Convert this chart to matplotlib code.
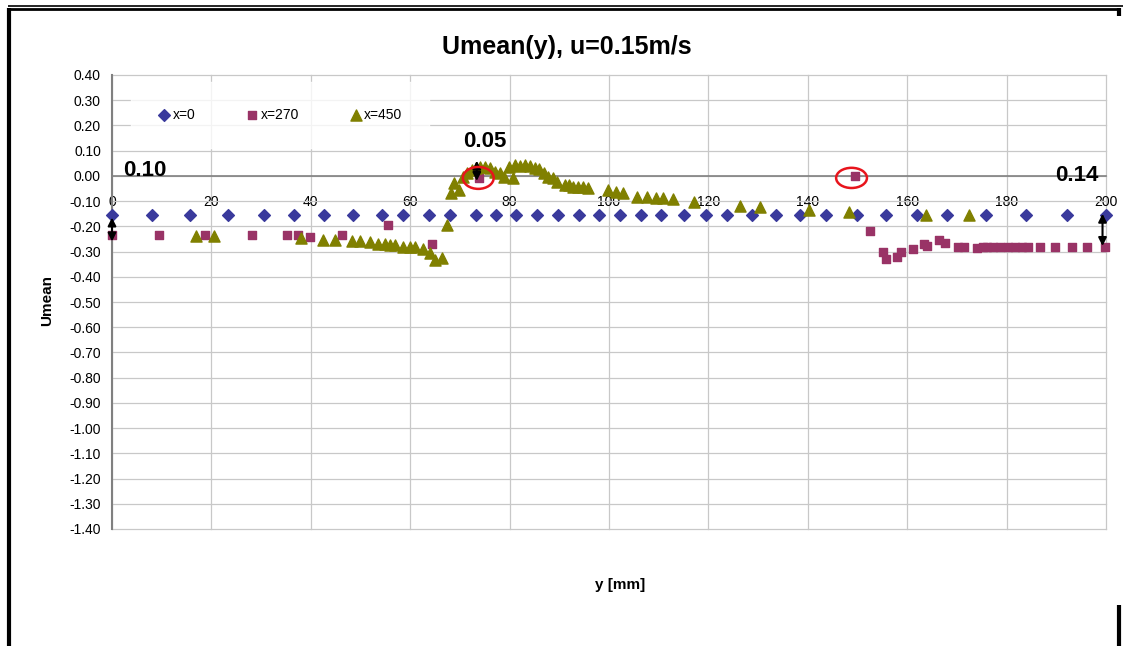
import numpy as np
import matplotlib
matplotlib.use('Agg')
import matplotlib.pyplot as plt
from matplotlib.patches import Ellipse
from matplotlib.lines import Line2D

# profile x=0
y_x0 = [0, 8, 15.7, 23.3, 30.6, 36.6, 42.7, 48.5, 54.3, 58.6, 63.8, 68.0, 73.2, 77.3,
        81.3, 85.5, 89.7, 94.0, 98.0, 102.2, 106.4, 110.5, 115.1, 119.5, 123.7, 128.8,
        133.6, 138.4, 143.7, 149.9, 155.7, 162.0, 168.0, 175.9, 183.9, 192.2, 200]
u_x0 = [-0.155] * len(y_x0)

# profile x=270
y_x270 = [0, 9.5, 18.7, 28.2, 35.2, 37.4, 39.8, 46.3, 55.5, 64.4, 73.8, 149.5, 152.5,
          155.1, 155.7, 157.9, 158.8, 161.2, 163.4, 164.0, 166.4, 167.6, 170.2, 171.4,
          174.0, 175.3, 176.1, 177.3, 178.7, 180.3, 181.7, 183.1, 184.3, 186.7, 189.7,
          193.2, 196.2, 199.8]
u_x270 = [-0.234, -0.234, -0.234, -0.234, -0.234, -0.234, -0.242, -0.234, -0.195, -0.27,
          -0.008, 0.0, -0.218, -0.30, -0.33, -0.32, -0.30, -0.29, -0.27, -0.277, -0.254,
          -0.266, -0.281, -0.281, -0.287, -0.281, -0.281, -0.281, -0.281, -0.281, -0.281,
          -0.281, -0.281, -0.281, -0.281, -0.281, -0.281, -0.281]

# profile x=450
y_x450 = [16.9, 20.5, 38.0, 42.5, 44.9, 48.3, 49.9, 51.9, 53.5, 54.9, 55.9, 56.9, 58.5,
          60.0, 61.0, 62.6, 64.0, 65.0, 66.4, 67.4, 68.2, 68.8, 69.8, 70.6, 71.4, 72.4,
          73.2, 74.0, 75.0, 76.0, 77.0, 78.0, 78.9, 79.9, 80.7, 81.1, 82.1, 83.1, 84.1,
          85.1, 85.9, 86.9, 87.7, 88.7, 89.5, 91.1, 92.0, 92.8, 93.8, 94.8, 95.8, 99.8,
          101.4, 102.8, 105.6, 107.6, 109.5, 110.9, 112.9, 117.1, 126.4, 130.4, 140.2,
          148.3, 163.8, 172.4]
u_x450 = [-0.238, -0.238, -0.246, -0.254, -0.254, -0.257, -0.257, -0.262, -0.27, -0.27,
          -0.274, -0.274, -0.28, -0.28, -0.28, -0.29, -0.305, -0.333, -0.325, -0.195,
          -0.068, -0.028, -0.056, -0.004, 0.012, 0.024, 0.03, 0.036, 0.036, 0.032, 0.016,
          0.012, -0.004, 0.036, -0.008, 0.044, 0.04, 0.044, 0.04, 0.032, 0.028, 0.012,
          -0.004, -0.008, -0.024, -0.036, -0.036, -0.044, -0.044, -0.044, -0.048, -0.056,
          -0.063, -0.067, -0.083, -0.083, -0.087, -0.087, -0.091, -0.103, -0.119, -0.123,
          -0.135, -0.145, -0.155, -0.155]

xticks = np.arange(0, 201, 20)
yticks = np.round(np.arange(-1.4, 0.401, 0.1), 2)

plt.rcParams['font.family'] = ['Liberation Sans', 'DejaVu Sans']

fig = plt.figure(figsize=(11.23, 6.46), dpi=100)
ax = fig.add_axes([112/1123, 1-529/646, 994/1123, 454/646])

ax.scatter(y_x0, u_x0, marker='D', s=36, color='#3a3a9c', label='x=0', zorder=3, clip_on=False)
ax.scatter(y_x270, u_x270, marker='s', s=40, color='#993366', label='x=270', zorder=3, clip_on=False)
ax.scatter(y_x450, u_x450, marker='^', s=64, color='#808000', label='x=450', zorder=3, clip_on=False)

ax.set_xlim(0, 200)
ax.set_ylim(-1.4, 0.4)
ax.set_xticks(xticks)
ax.set_yticks(yticks)
ax.set_yticklabels(['%.2f' % v for v in yticks])
ax.grid(True, color='#c8c8c8', linewidth=0.9, clip_on=False)
ax.set_axisbelow(True)

for s in ['top', 'right']:
    ax.spines[s].set_visible(False)
ax.spines['bottom'].set_position(('data', 0))
ax.spines['bottom'].set_color('#808080')
ax.spines['left'].set_color('#808080')
ax.spines['bottom'].set_linewidth(1.2)
ax.spines['left'].set_linewidth(1.5)
ax.tick_params(axis='x', length=0, pad=14, labelsize=10)
ax.tick_params(axis='y', length=0, pad=8, labelsize=10)

leg = ax.legend(loc='center left', bbox_to_anchor=(0.012, 0.912), ncol=3, frameon=True,
                fontsize=10, handletextpad=0.1, columnspacing=3.6, handlelength=1.0,
                borderpad=1.9, fancybox=False)
leg.get_frame().set_facecolor('white')
leg.get_frame().set_edgecolor('white')

# value labels
ax.text(2.2, 0.0, '0.10', fontsize=16, fontweight='bold', va='baseline', ha='left')
ax.text(75.0, 0.115, '0.05', fontsize=16, fontweight='bold', va='baseline', ha='center')
ax.text(198.4, -0.02, '0.14', fontsize=16, fontweight='bold', va='baseline', ha='right')

# double arrows
arr = dict(arrowstyle='<|-|>', color='black', lw=1.5, mutation_scale=12, shrinkA=0, shrinkB=0)
ax.annotate('', xy=(0, -0.165), xytext=(0, -0.26), arrowprops=arr, annotation_clip=False)
ax.annotate('', xy=(73.4, 0.06), xytext=(73.4, -0.02), arrowprops=arr, annotation_clip=False)
ax.annotate('', xy=(199.3, -0.15), xytext=(199.3, -0.278), arrowprops=arr, annotation_clip=False)

# circled points
ax.add_patch(Ellipse((73.7, -0.008), 6.2, 0.087, fill=False, edgecolor='#e8141c', lw=1.8, zorder=4))
ax.add_patch(Ellipse((148.8, -0.008), 6.2, 0.08, fill=False, edgecolor='#e8141c', lw=1.8, zorder=4))

fig.text(567/1123, 1-47/646, 'Umean(y), u=0.15m/s', fontsize=18, fontweight='bold',
         ha='center', va='center')
fig.text(47/1123, 1-300/646, 'Umean', fontsize=11, fontweight='bold', rotation=90,
         ha='center', va='center')
fig.text(620/1123, 1-585/646, 'y [mm]', fontsize=11, fontweight='bold', ha='center', va='center')

# frame around the chart
W, H = 1123, 646
def fline(xs, ys, lw):
    fig.add_artist(Line2D([x/W for x in xs], [1-y/H for y in ys], color='black',
                          linewidth=lw, solid_capstyle='butt'))

fline([8, 1123], [5.5, 5.5], 1.2)
fline([9, 1119], [9, 9], 2.0)
fline([9, 9], [8, 646], 3.0)
fline([1119, 1119], [8, 16], 3.0)
fline([1119, 1119], [605, 646], 3.0)

fig.savefig('out.png', dpi=100)
